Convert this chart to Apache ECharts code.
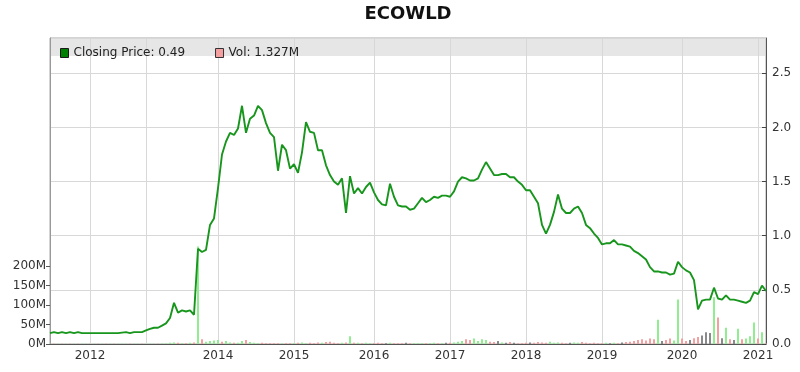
<!DOCTYPE html>
<html>
<head>
<meta charset="utf-8">
<script src="https://cdn.jsdelivr.net/npm/echarts/dist/echarts.min.js"></script>
<style>
html,body{margin:0;padding:0;background:#fff;}
#chart{width:800px;height:372px;}
</style>
</head>
<body>
<div id="chart"></div>
<script>
// Sampling of the trading history: [year, samples in that year, first day-of-year, last day-of-year]
const sampleSegments = [
  [2011, 10, 180, 365], [2012, 14, 0, 365], [2013, 18, 0, 365], [2014, 19, 0, 365],
  [2015, 20, 0, 365], [2016, 19, 0, 365], [2017, 19, 0, 365], [2018, 19, 0, 365],
  [2019, 20, 0, 365], [2020, 19, 0, 365], [2021, 3, 0, 30]
];

// Closing price (right axis)
const closePrice = [
  0.10,0.11,0.10,0.11,0.10,0.11,0.10,0.11,0.10,0.10,
  0.10,0.10,0.10,0.10,0.10,0.10,0.10,0.10,0.105,0.11,
  0.10,0.11,0.11,0.11,0.125,0.14,0.15,0.15,0.17,0.19,
  0.24,0.38,0.29,0.31,0.30,0.31,0.27,0.88,0.85,0.87,
  1.10,1.16,1.44,1.75,1.87,1.95,1.93,1.99,2.20,1.95,
  2.08,2.11,2.20,2.16,2.04,1.95,1.91,1.60,1.84,1.79,
  1.62,1.66,1.58,1.77,2.05,1.96,1.95,1.79,1.79,1.65,
  1.56,1.50,1.47,1.53,1.21,1.55,1.39,1.44,1.39,1.45,
  1.49,1.40,1.33,1.29,1.28,1.48,1.36,1.28,1.27,1.27,
  1.24,1.25,1.30,1.35,1.31,1.33,1.36,1.35,1.37,1.37,
  1.36,1.41,1.50,1.54,1.53,1.51,1.51,1.53,1.61,1.68,
  1.62,1.56,1.56,1.57,1.57,1.54,1.54,1.50,1.47,1.42,
  1.42,1.36,1.30,1.10,1.02,1.10,1.22,1.38,1.25,1.21,
  1.21,1.25,1.27,1.21,1.10,1.07,1.02,0.98,0.92,0.93,
  0.93,0.96,0.92,0.92,0.91,0.90,0.86,0.84,0.81,0.78,
  0.71,0.67,0.67,0.66,0.66,0.64,0.65,0.76,0.71,0.68,
  0.66,0.59,0.32,0.40,0.41,0.41,0.52,0.42,0.41,0.45,
  0.41,0.41,0.40,0.39,0.38,0.40,0.48,0.46,0.54,0.49
];

// Volume in millions (left axis)
const volumeM = [
  0.5,0.5,0.5,0.5,0.5,0.5,0.5,0.5,0.5,0.5,
  0.5,0.5,0.5,0.5,0.5,0.5,0.5,0.5,0.5,0.5,
  0.5,0.5,0.5,0.5,0.5,0.5,0.5,0.5,1,1,
  3,4,3,2,2,3,4,250,12,6,
  8,9,10,6,8,4,3,3,8,10,
  5,3,2,3,2,2,2,2,1,2,
  2,2,3,4,2,3,2,4,3,5,
  6,3,2,3,4,20,3,3,2,3,
  2,2,3,2,2,3,2,2,2,3,
  2,2,2,2,2,2,3,2,2,3,
  3,4,6,8,12,10,14,8,12,10,
  6,5,8,4,3,5,3,2,2,3,
  4,3,5,4,3,6,3,4,3,2,
  3,4,3,5,3,2,3,2,2,3,
  2,3,2,4,5,6,8,10,12,9,
  14,12,62,8,10,14,9,114,14,8,
  10,15,18,22,30,28,120,68,15,42,
  12,10,39,12,14,20,55,14,30,1.327
];

// Direction of the day: 1 up, -1 down, 0 unchanged
const volumeDir = [
  1,-1,1,-1,1,-1,1,-1,1,1,
  -1,1,-1,1,-1,1,-1,1,1,1,
  -1,1,1,-1,1,1,1,-1,1,1,
  1,1,-1,1,-1,1,-1,1,-1,1,
  1,1,1,-1,1,1,-1,1,1,-1,
  1,1,1,-1,-1,-1,-1,-1,1,-1,
  -1,1,-1,1,1,-1,-1,-1,1,-1,
  -1,-1,-1,1,-1,1,-1,1,-1,1,
  1,-1,-1,-1,0,1,-1,-1,-1,0,
  -1,1,1,1,-1,1,1,-1,1,0,
  -1,1,1,1,-1,-1,1,1,1,1,
  -1,-1,0,1,0,-1,0,-1,-1,-1,
  0,-1,-1,-1,-1,1,1,1,-1,-1,
  0,1,1,-1,-1,-1,-1,-1,-1,1,
  0,1,-1,0,-1,-1,-1,-1,-1,-1,
  -1,-1,1,0,-1,-1,1,1,-1,-1,
  0,-1,-1,0,0,0,1,-1,0,1,
  -1,0,1,-1,1,1,1,-1,1,-1
];

const gridYears = [2012, 2013, 2014, 2015, 2016, 2017, 2018, 2019, 2020, 2021];
const labelYears = ['2012', '2014', '2015', '2016', '2017', '2018', '2019', '2020', '2021'];
const volumeTicks = [0, 50, 100, 150, 200];
const priceTicks = ['0.0', '0.5', '1.0', '1.5', '2.0', '2.5'];

// Build category dates
const dates = [];
sampleSegments.forEach(([y, n, d0, d1]) => {
  for (let k = 0; k < n; k++) {
    const d = new Date(Date.UTC(y, 0, 1 + d0 + Math.floor(k * (d1 - d0) / n)));
    dates.push(d.toISOString().slice(0, 10));
  }
});
const yearStart = dates.map((d, i) => i > 0 && d.slice(0, 4) !== dates[i - 1].slice(0, 4));

const dirColor = { '1': '#90ee90', '-1': '#f4a0a0', '0': '#8a8a8a' };
const volData = volumeM.map((v, i) => ({ value: v, itemStyle: { color: dirColor[String(volumeDir[i])] } }));

const lastPrice = closePrice[closePrice.length - 1];
const lastVol = volumeM[volumeM.length - 1];
const FONT = '"DejaVu Sans", Verdana, sans-serif';

const chart = echarts.init(document.getElementById('chart'), null, { renderer: 'canvas' });
chart.setOption({
  animation: false,
  backgroundColor: '#ffffff',
  grid: { left: 50, right: 34, top: 38, bottom: 28, show: true, borderColor: '#a8a8a8', borderWidth: 1, backgroundColor: 'transparent' },
  graphic: [
    { type: 'rect', z: -10, silent: true, shape: { x: 51, y: 39, width: 714, height: 17 }, style: { fill: '#e6e6e6' } },
    { type: 'text', x: 408, y: 14, style: { text: 'ECOWLD', fontFamily: FONT, fontWeight: 'bold', fontSize: 18, fill: '#111', align: 'center', verticalAlign: 'middle' } }
  ],
  legend: {
    left: 55, top: 42, itemWidth: 8, itemHeight: 9, itemGap: 30, selectedMode: false,
    textStyle: { fontFamily: FONT, fontSize: 12, color: '#222' },
    data: [
      { name: 'Closing Price', icon: 'rect', itemStyle: { color: '#008000', borderColor: '#1a1a1a', borderWidth: 1 } },
      { name: 'Vol', icon: 'rect', itemStyle: { color: '#f4a0a0', borderColor: '#333', borderWidth: 1 } }
    ],
    formatter: name => name === 'Closing Price' ? 'Closing Price: ' + lastPrice.toFixed(2) : 'Vol: ' + lastVol.toFixed(3) + 'M'
  },
  xAxis: {
    type: 'category', data: dates, boundaryGap: false,
    axisLine: { show: true, lineStyle: { color: '#555' } },
    axisTick: { show: false },
    axisLabel: {
      fontFamily: FONT, fontSize: 12, color: '#333', margin: 6,
      interval: (i, v) => yearStart[i] && labelYears.indexOf(v.slice(0, 4)) >= 0,
      formatter: v => v.slice(0, 4)
    },
    splitLine: {
      show: true, lineStyle: { color: '#d8d8d8', width: 1 },
      interval: (i, v) => yearStart[i] && gridYears.indexOf(+v.slice(0, 4)) >= 0
    }
  },
  yAxis: [
    {
      type: 'value', position: 'left', min: 0, max: 785, interval: 50,
      axisLine: { show: true, lineStyle: { color: '#999' } },
      axisTick: { show: true, length: 4, lineStyle: { color: '#555' }, customValues: volumeTicks },
      axisLabel: {
        fontFamily: FONT, fontSize: 12, color: '#333', margin: 4, customValues: volumeTicks,
        formatter: v => v <= 200 ? v + 'M' : ''
      },
      splitLine: { show: false }
    },
    {
      type: 'value', position: 'right', min: 0, max: 2.826, interval: 0.5,
      axisLine: { show: true, lineStyle: { color: '#555' } },
      axisTick: { show: true, inside: true, length: 4, lineStyle: { color: '#444' } },
      axisLabel: {
        fontFamily: FONT, fontSize: 12, color: '#333', margin: 6, showMaxLabel: false,
        formatter: v => { const s = v.toFixed(1); return priceTicks.indexOf(s) >= 0 ? s : ''; }
      },
      splitLine: { show: true, lineStyle: { color: '#d8d8d8', width: 1 } }
    }
  ],
  series: [
    {
      name: 'Vol', type: 'bar', yAxisIndex: 0, data: volData, barWidth: 2,
      itemStyle: { color: '#f4a0a0' }, z: 2
    },
    {
      name: 'Closing Price', type: 'line', yAxisIndex: 1, data: closePrice,
      showSymbol: false, symbol: 'none', lineStyle: { color: '#17951c', width: 1.9 }, z: 3
    }
  ]
});
</script>
</body>
</html>
